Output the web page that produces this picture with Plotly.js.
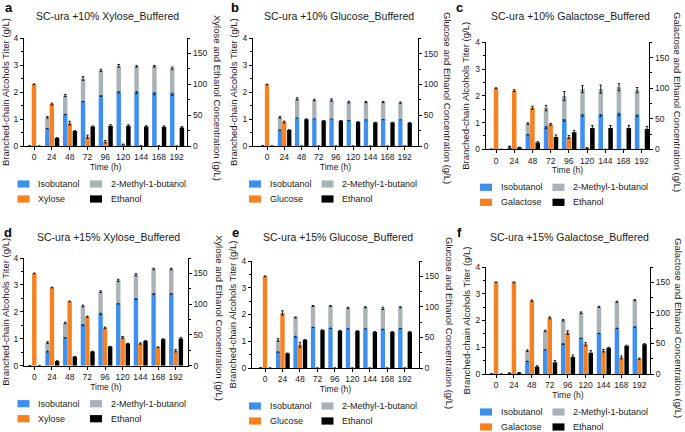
<!DOCTYPE html>
<html><head><meta charset="utf-8">
<script src="https://cdn.plot.ly/plotly-3.0.1.min.js"></script>
<style>html,body{margin:0;padding:0;background:#fff}#chart{width:685px;height:432px}</style>
</head><body><div id="chart"></div>
<script>
// ---------- data ----------
const timeH = [0, 24, 48, 72, 96, 120, 144, 168, 192];
const timeLabels = ['0', '24', '48', '72', '96', '120', '144', '168', '192'];
const panelLetters = ['a', 'b', 'c', 'd', 'e', 'f'];
const panelTitles = ['SC-ura +10% Xylose_Buffered', 'SC-ura +10% Glucose_Buffered', 'SC-ura +10% Galactose_Buffered',
                     'SC-ura +15% Xylose_Buffered', 'SC-ura +15% Glucose_Buffered', 'SC-ura +15% Galactose_Buffered'];
const sugarNames = ['Xylose', 'Glucose', 'Galactose', 'Xylose', 'Glucose', 'Galactose'];
const leftTitle = 'Branched-chain Alcohols Titer (g/L)';
const xTitle = 'Time (h)';
const isoName = 'Isobutanol';
const mbName = '2-Methyl-1-butanol';
const ethName = 'Ethanol';
const leftTicks = [0, 1, 2, 3, 4];
const rightTicks = [0, 50, 100, 150];

// a: 10% xylose
const isoA = [0, 0.67, 1.19, 1.68, 1.89, 2.04, 2.04, 2.00, 1.98];
const mbA = [0, 0.39, 0.68, 0.82, 0.91, 0.93, 0.91, 0.95, 0.90];
const sugarA = [100, 68, 37, 15, 7, 2.5, 0.5, 0.3, 0];
const ethA = [0, 13, 24.4, 31.4, 33, 33, 31.4, 31, 30];
const isoErrA = [0, 0.03, 0.03, 0.04, 0.05, 0.07, 0.1, 0.1, 0.1];
const totErrA = [0, 0.03, 0.04, 0.07, 0.04, 0.05, 0.03, 0.03, 0.04];
const sugarErrA = [0.5, 1.5, 3, 2.5, 2, 0.5, 0, 0, 0];
const ethErrA = [0, 0.5, 0.5, 1, 1.5, 1.5, 1.5, 1.5, 1.5];
// b: 10% glucose
const isoB = [0, 0.62, 1.06, 1.03, 1.02, 0.97, 0.99, 1.00, 0.99];
const mbB = [0, 0.445, 0.69, 0.68, 0.69, 0.66, 0.64, 0.63, 0.62];
const sugarB = [100, 39, 0, 0, 0, 0, 0, 0, 0];
const ethB = [0, 26, 43.5, 41, 41, 39, 38, 38, 37.6];
const isoErrB = [0, 0.03, 0.02, 0.02, 0.02, 0.02, 0.02, 0.02, 0.02];
const totErrB = [0, 0.03, 0.04, 0.03, 0.04, 0.03, 0.02, 0.02, 0.02];
const sugarErrB = [0.5, 1.5, 0, 0, 0, 0, 0, 0, 0];
const ethErrB = [0, 0.5, 0.5, 0.5, 0.5, 0.5, 0.5, 0.5, 0.5];
// c: 10% galactose
const isoC = [0, 0.07, 0.58, 0.88, 1.13, 1.32, 1.32, 1.38, 1.31];
const mbC = [0, 0.03, 0.38, 0.66, 0.86, 0.93, 0.93, 0.94, 0.90];
const sugarC = [100, 96, 68, 41, 20, 2, 0, 0, 0];
const ethC = [0, 3, 11, 20, 28, 35, 35, 35, 33];
const isoErrC = [0, 0.03, 0.04, 0.1, 0.08, 0.08, 0.08, 0.12, 0.08];
const totErrC = [0, 0.02, 0.03, 0.1, 0.17, 0.13, 0.15, 0.13, 0.1];
const sugarErrC = [0.5, 1.5, 2.5, 1.5, 2.5, 1, 0, 0, 0];
const ethErrC = [0, 0.5, 1.5, 3.5, 2.5, 4, 4, 4, 4.5];
// d: 15% xylose
const isoD = [0, 0.56, 1.07, 1.55, 1.98, 2.34, 2.51, 2.70, 2.70];
const mbD = [0, 0.30, 0.52, 0.67, 0.77, 0.83, 0.87, 0.89, 0.89];
const sugarD = [150, 127, 104.5, 79.6, 61.7, 46, 36, 30, 24.4];
const ethD = [0, 7.6, 14.6, 23, 31, 36, 40, 42.8, 44];
const isoErrD = [0, 0.05, 0.04, 0.06, 0.08, 0.05, 0.05, 0.05, 0.05];
const totErrD = [0, 0.03, 0.03, 0.03, 0.03, 0.04, 0.04, 0.03, 0.03];
const sugarErrD = [0.5, 0.5, 0.5, 1, 1, 1.5, 1, 0.5, 2];
const ethErrD = [0, 0.5, 0.5, 0.5, 0.5, 0.5, 1, 1, 2];
// e: 15% glucose
const isoE = [0, 0.63, 1.21, 1.55, 1.52, 1.49, 1.49, 1.47, 1.50];
const mbE = [0, 0.42, 0.68, 0.77, 0.80, 0.76, 0.78, 0.76, 0.77];
const sugarE = [150, 90, 38, 0, 0, 0, 0, 0, 0];
const ethE = [0, 24, 46, 62, 61, 60.5, 59, 59, 59];
const isoErrE = [0, 0.04, 0.06, 0.04, 0.04, 0.03, 0.03, 0.03, 0.03];
const totErrE = [0, 0.05, 0.02, 0.02, 0.02, 0.02, 0.02, 0.04, 0.02];
const sugarErrE = [0.5, 3.5, 4, 0, 0, 0, 0, 0, 0];
const ethErrE = [0, 0.5, 0.5, 0.5, 0.5, 0.5, 0.5, 0.5, 0.5];
// f: 15% galactose
const isoF = [0, 0.02, 0.50, 0.93, 1.17, 1.37, 1.55, 1.74, 1.79];
const mbF = [0, 0.01, 0.37, 0.68, 0.84, 0.92, 0.96, 0.96, 0.97];
const sugarF = [150, 150, 120, 92, 67.7, 48.7, 38, 27, 25];
const ethF = [0, 2, 12, 19, 28, 34.7, 42.8, 46, 48.7];
const isoErrF = [0, 0.01, 0.03, 0.03, 0.07, 0.04, 0.04, 0.04, 0.04];
const totErrF = [0, 0.01, 0.03, 0.03, 0.03, 0.03, 0.02, 0.02, 0.02];
const sugarErrF = [0.5, 0.5, 1, 1.5, 3, 2.5, 2, 2.5, 1];
const ethErrF = [0, 0.5, 1.5, 3, 3, 3.5, 1, 1, 1];

const isoAll = [isoA, isoB, isoC, isoD, isoE, isoF];
const mbAll = [mbA, mbB, mbC, mbD, mbE, mbF];
const sugarAll = [sugarA, sugarB, sugarC, sugarD, sugarE, sugarF];
const ethAll = [ethA, ethB, ethC, ethD, ethE, ethF];
const isoErrAll = [isoErrA, isoErrB, isoErrC, isoErrD, isoErrE, isoErrF];
const totErrAll = [totErrA, totErrB, totErrC, totErrD, totErrE, totErrF];
const sugarErrAll = [sugarErrA, sugarErrB, sugarErrC, sugarErrD, sugarErrE, sugarErrF];
const ethErrAll = [ethErrA, ethErrB, ethErrC, ethErrD, ethErrE, ethErrF];

// ---------- style / layout ----------
const W = 685, H = 432;
const C_ISO = '#3d8ff0', C_MB = '#a9b3b6', C_SUG = '#f7801f', C_ETH = '#000000';
const FONT = '"Liberation Sans", Arial, Helvetica, sans-serif';
const TXT = '#1a1a1a';
const barW = 6, offStack = -9, offSugar = -3, offEth = 4;

// panel geometry in pixels
const geom = [
  {L: 24,    R: 187.3, T: 38,   B: 146,   first: 34,   last: 176.7, legX: 17.5, titleX: 107, titleY: 15.7, letX: 8.5, letY: 7, rtX: 218, rtY: 98},
  {L: 253,   R: 418,   T: 38.3, B: 146,   first: 267,  last: 404.7, legX: 249,  titleX: 339, titleY: 15.7, letX: 235, letY: 7, rtX: 448, rtY: 98},
  {L: 485.7, R: 649.3, T: 42.3, B: 149.3, first: 496,  last: 641.7, legX: 480,  titleX: 570, titleY: 15.7, letX: 460, letY: 7, rtX: 678, rtY: 102},
  {L: 24,    R: 187.7, T: 258,  B: 365.7, first: 34.3, last: 175.7, legX: 17.5, titleX: 108, titleY: 236.7, letX: 7.5, letY: 232, rtX: 220, rtY: 318},
  {L: 252,   R: 419,   T: 261,  B: 368,   first: 265,  last: 404.7, legX: 249,  titleX: 338, titleY: 236.7, letX: 235, letY: 232, rtX: 450, rtY: 323},
  {L: 486,   R: 650,   T: 267,  B: 374,   first: 496,  last: 639.3, legX: 480,  titleX: 569, titleY: 236.7, letX: 460, letY: 232, rtX: 679, rtY: 328}
];
const px = v => v / W;
const py = v => 1 - v / H;

const traces = [];
const layout = {
  width: W, height: H, autosize: false,
  margin: {l: 0, r: 0, t: 0, b: 0, pad: 0},
  paper_bgcolor: '#fff', plot_bgcolor: 'rgba(0,0,0,0)',
  barmode: 'overlay', showlegend: false,
  font: {family: FONT, color: TXT, size: 9},
  annotations: [], shapes: []
};

function errCfg(arr) {
  return {type: 'data', array: arr, visible: true, color: '#1a1a1a', thickness: 1, width: 1.2};
}

geom.forEach((g, k) => {
  const xn = k === 0 ? '' : String(k + 1);
  const yLn = 2 * k + 1, yRn = 2 * k + 2;
  const xref = 'x' + xn;
  const yLref = yLn === 1 ? 'y' : 'y' + yLn;
  const yRref = 'y' + yRn;
  const pxh = (g.last - g.first) / 192;
  const xmin = -(g.first - g.L) / pxh;
  const xmax = 192 + (g.R - g.last) / pxh;

  layout['xaxis' + xn] = {
    domain: [px(g.L), px(g.R)], range: [xmin, xmax], anchor: yLref,
    tickmode: 'array', tickvals: timeH, ticktext: timeLabels,
    ticks: 'outside', ticklen: 3, tickwidth: 1, tickcolor: '#000',
    showline: true, linecolor: '#000', linewidth: 1, showgrid: false, zeroline: false,
    tickfont: {size: 8.5, color: TXT, family: FONT},
    title: {text: xTitle, font: {size: 8.5, color: TXT, family: FONT}, standoff: 2},
    fixedrange: true
  };
  layout['yaxis' + (yLn === 1 ? '' : yLn)] = {
    domain: [py(g.B), py(g.T)], range: [0, 4], anchor: xref,
    tickmode: 'array', tickvals: leftTicks,
    ticks: 'outside', ticklen: 3, tickwidth: 1, tickcolor: '#000',
    minor: {dtick: 0.5, ticks: 'outside', ticklen: 2, tickwidth: 1, tickcolor: '#000', showgrid: false},
    showline: true, linecolor: '#000', linewidth: 1, showgrid: false, zeroline: false,
    tickfont: {size: 8.5, color: TXT, family: FONT},
    title: {text: leftTitle, font: {size: 9.5, color: TXT, family: FONT}, standoff: 3},
    fixedrange: true
  };
  layout['yaxis' + yRn] = {
    overlaying: yLref, side: 'right', anchor: xref, range: [0, 175],
    tickmode: 'array', tickvals: rightTicks,
    ticks: 'outside', ticklen: 3, tickwidth: 1, tickcolor: '#000',
    minor: {dtick: 25, ticks: 'outside', ticklen: 2, tickwidth: 1, tickcolor: '#000', showgrid: false},
    showline: true, linecolor: '#000', linewidth: 1, showgrid: false, zeroline: false,
    tickfont: {size: 8.5, color: TXT, family: FONT},
    fixedrange: true
  };

  traces.push({
    type: 'bar', name: isoName, x: timeH, y: isoAll[k], xaxis: xref, yaxis: yLref,
    width: barW, offset: offStack, marker: {color: C_ISO, line: {width: 0}},
    error_y: errCfg(isoErrAll[k])
  });
  traces.push({
    type: 'bar', name: mbName, x: timeH, y: mbAll[k], base: isoAll[k], xaxis: xref, yaxis: yLref,
    width: barW, offset: offStack, marker: {color: C_MB, line: {width: 0}},
    error_y: errCfg(totErrAll[k])
  });
  traces.push({
    type: 'bar', name: sugarNames[k], x: timeH, y: sugarAll[k], xaxis: xref, yaxis: yRref,
    width: barW, offset: offSugar, marker: {color: C_SUG, line: {width: 0}},
    error_y: errCfg(sugarErrAll[k])
  });
  traces.push({
    type: 'bar', name: ethName, x: timeH, y: ethAll[k], xaxis: xref, yaxis: yRref,
    width: barW, offset: offEth, marker: {color: C_ETH, line: {width: 0}},
    error_y: errCfg(ethErrAll[k])
  });

  // panel title & letter
  layout.annotations.push({
    xref: 'paper', yref: 'paper', x: px(g.titleX), y: py(g.titleY), xanchor: 'center', yanchor: 'middle',
    text: panelTitles[k], showarrow: false, font: {size: 10.5, color: TXT, family: FONT}
  });
  layout.annotations.push({
    xref: 'paper', yref: 'paper', x: px(g.letX), y: py(g.letY), xanchor: 'center', yanchor: 'middle',
    text: '<b>' + panelLetters[k] + '</b>', showarrow: false, font: {size: 13, color: '#000', family: FONT}
  });
  // right axis title (reads top-to-bottom)
  layout.annotations.push({
    xref: 'paper', yref: 'paper', x: px(g.rtX), y: py(g.rtY), xanchor: 'center', yanchor: 'middle',
    text: sugarNames[k] + ' and Ethanol Concentration (g/L)', textangle: 90, showarrow: false,
    font: {size: 9.5, color: TXT, family: FONT}
  });

  // legend (2 x 2)
  const rows = [g.B + 38, g.B + 53];
  const items = [
    [0, 0, isoName, C_ISO], [1, 0, mbName, C_MB],
    [0, 1, sugarNames[k], C_SUG], [1, 1, ethName, C_ETH]
  ];
  items.forEach(([col, row, label, color]) => {
    const sx = g.legX + col * 72.5;
    const yy = rows[row];
    layout.shapes.push({
      type: 'rect', xref: 'paper', yref: 'paper',
      x0: px(sx), x1: px(sx + 12), y0: py(yy - 3.6), y1: py(yy + 3.6),
      fillcolor: color, line: {width: 0}
    });
    layout.annotations.push({
      xref: 'paper', yref: 'paper', x: px(sx + 18.5), y: py(yy), xanchor: 'left', yanchor: 'middle',
      text: label, showarrow: false, font: {size: 9, color: TXT, family: FONT}
    });
  });
});

Plotly.newPlot('chart', traces, layout, {staticPlot: true, displayModeBar: false});
</script>
</body></html>
